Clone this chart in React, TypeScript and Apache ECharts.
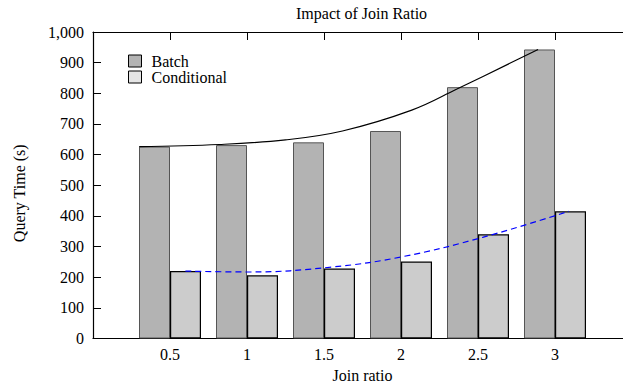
import React, { useEffect, useRef } from "react";
import * as echarts from "echarts";

const joinRatios = [0.5, 1, 1.5, 2, 2.5, 3];
const batchTimes = [626, 631, 640, 677, 820, 943];
const conditionalTimes = [220, 206, 228, 251, 340, 415];

// trend curves: [join ratio, query time]
const batchTrend: [number, number][] = [
  [0.3, 626], [0.82, 633], [1.25, 648], [1.62, 677], [2.07, 745], [2.36, 813], [2.89, 943],
];
const conditionalTrend: [number, number][] = [
  [0.6, 220], [1.01, 217], [1.55, 233], [2.01, 267], [2.53, 330], [3.09, 415],
];

const yTicks = [0, 100, 200, 300, 400, 500, 600, 700, 800, 900, 1000];

const FONT = "Liberation Serif";
const FS = 16;

export default function App() {
  const ref = useRef<HTMLDivElement>(null);
  useEffect(() => {
    if (!ref.current) return;
    const chart = echarts.init(ref.current, null, { renderer: "svg" });
    const fmt = (v: number) => v.toLocaleString("en-US");
    chart.setOption({
      animation: false,
      textStyle: { fontFamily: FONT, color: "#000" },
      title: {
        text: "Impact of Join Ratio",
        left: 291,
        top: 0,
        textStyle: { fontFamily: FONT, fontSize: FS, fontWeight: "normal", color: "#000" },
      },
      legend: {
        orient: "vertical",
        left: 123,
        top: 48,
        itemWidth: 13,
        itemHeight: 12,
        itemGap: 0,
        icon: "rect",
        textStyle: { fontFamily: FONT, fontSize: FS, color: "#000", lineHeight: 16, padding: [0, 0, 0, 5] },
        data: [
          { name: "Batch", itemStyle: { color: "#b3b3b3", borderColor: "#000", borderWidth: 1 } },
          { name: "Conditional", itemStyle: { color: "#e5e5e5", borderColor: "#000", borderWidth: 1 } },
        ],
      },
      grid: { left: 93, top: 32, right: -9, bottom: 45.5, containLabel: false, outerBoundsMode: "none" },
      xAxis: [
        {
          type: "value",
          min: 0,
          max: 3.5,
          interval: 0.5,
          position: "bottom",
          name: "Join ratio",
          nameLocation: "middle",
          nameGap: 25,
          nameTextStyle: { fontFamily: FONT, fontSize: FS, color: "#000" },
          axisLine: { show: true, lineStyle: { color: "#000", width: 1.2 } },
          axisTick: { show: true, inside: true, length: 8, lineStyle: { color: "#000" } },
          axisLabel: {
            fontFamily: FONT,
            fontSize: FS,
            color: "#000",
            margin: 8,
            formatter: (v: number) => (joinRatios.includes(v) ? String(v) : ""),
          },
          splitLine: { show: false },
        },
        {
          type: "value",
          min: 0,
          max: 3.5,
          interval: 0.5,
          position: "top",
          axisLine: { show: true, lineStyle: { color: "#000", width: 1.2 } },
          axisTick: { show: true, inside: true, length: 8, lineStyle: { color: "#000" } },
          axisLabel: { show: false },
          splitLine: { show: false },
        },
      ],
      yAxis: {
        type: "value",
        min: 0,
        max: 1000,
        interval: 100,
        name: "Query Time (s)",
        nameLocation: "middle",
        nameGap: 66,
        nameTextStyle: { fontFamily: FONT, fontSize: FS, color: "#000", padding: [0, 16, 0, 0] },
        axisLine: { show: true, lineStyle: { color: "#000", width: 1.2 } },
        axisTick: { show: true, inside: true, length: 8, lineStyle: { color: "#000" } },
        axisLabel: {
          fontFamily: FONT,
          fontSize: FS,
          color: "#000",
          margin: 9,
          formatter: (v: number) => (yTicks.includes(v) ? fmt(v) : ""),
        },
        splitLine: { show: false },
      },
      series: [
        {
          name: "Batch",
          type: "bar",
          xAxisIndex: 0,
          barWidth: 31,
          barGap: "0%",
          data: joinRatios.map((x, i) => [x, batchTimes[i]]),
          itemStyle: { color: "#b3b3b3", borderColor: "#555", borderWidth: 1 },
        },
        {
          name: "Conditional",
          type: "bar",
          xAxisIndex: 0,
          barWidth: 31,
          barGap: "0%",
          data: joinRatios.map((x, i) => [x, conditionalTimes[i]]),
          itemStyle: { color: "#cccccc", borderColor: "#000", borderWidth: 1.2 },
        },
        {
          name: "Batch trend",
          type: "line",
          xAxisIndex: 0,
          smooth: 0.4,
          showSymbol: false,
          symbol: "none",
          data: batchTrend,
          lineStyle: { color: "#000", width: 1.2 },
          z: 5,
        },
        {
          name: "Conditional trend",
          type: "line",
          xAxisIndex: 0,
          smooth: 0.4,
          showSymbol: false,
          symbol: "none",
          data: conditionalTrend,
          lineStyle: { color: "#0000ff", width: 1.2, type: [6, 4] },
          z: 5,
        },
      ],
    });
    return () => chart.dispose();
  }, []);
  return (
    <div
      ref={ref}
      style={{ position: "absolute", left: 0, top: 0, width: 623, height: 384, background: "#fff" }}
    />
  );
}
